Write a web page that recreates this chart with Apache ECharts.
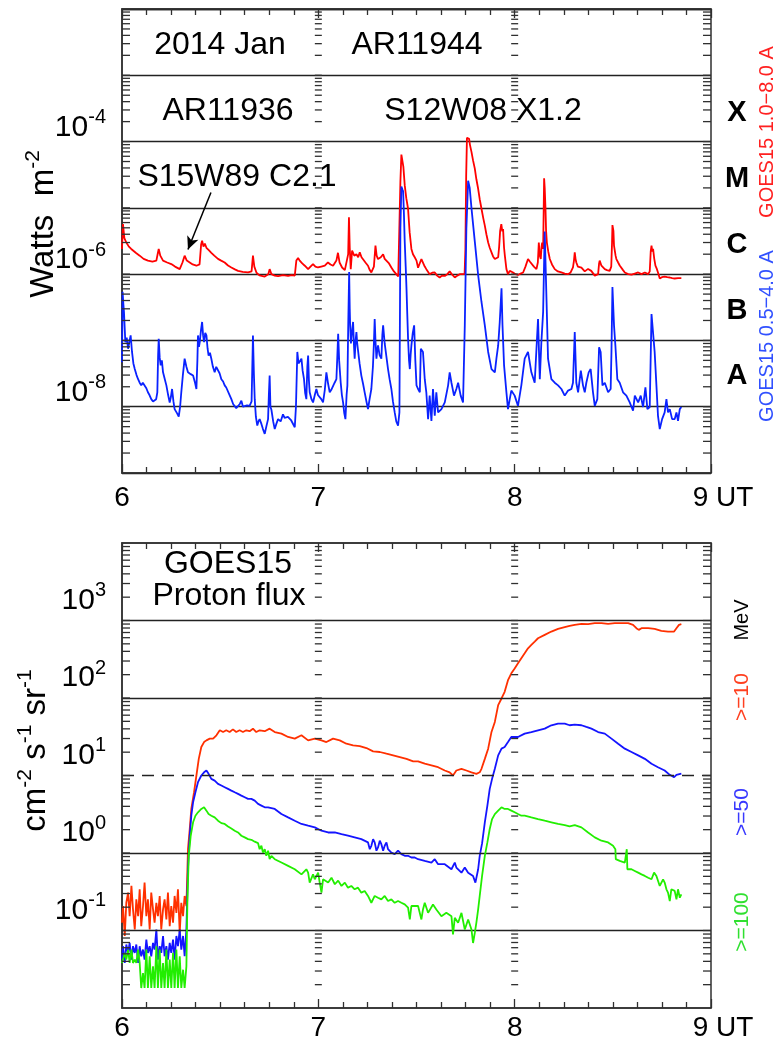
<!DOCTYPE html>
<html><head><meta charset="utf-8">
<script src="https://cdn.jsdelivr.net/npm/echarts@6/dist/echarts.min.js"></script>
<style>html,body{margin:0;padding:0;background:#fff}#c{width:778px;height:1043px}</style>
</head><body><div id="c"></div><script>
// ---------- data (time in days of 2014 Jan, flux values) ----------
const xTicks = [6, 7, 8, 9];
const xLabels = ['6', '7', '8', '9 UT'];
const goesLong = [[6.000,2.4e-6],[6.005,5.7e-6],[6.012,3.5e-6],[6.022,3.0e-6],[6.035,2.6e-6],[6.047,2.4e-6],[6.070,2.1e-6],[6.090,1.9e-6],[6.110,1.7e-6],[6.132,1.6e-6],[6.155,1.55e-6],[6.175,1.6e-6],[6.183,2.1e-6],[6.187,2.4e-6],[6.195,1.9e-6],[6.209,1.6e-6],[6.230,1.5e-6],[6.251,1.42e-6],[6.270,1.3e-6],[6.294,1.19e-6],[6.308,1.5e-6],[6.319,1.9e-6],[6.330,1.6e-6],[6.345,1.5e-6],[6.360,1.4e-6],[6.379,1.34e-6],[6.395,1.4e-6],[6.403,2.8e-6],[6.408,3.2e-6],[6.415,2.6e-6],[6.422,2.9e-6],[6.430,2.5e-6],[6.442,2.3e-6],[6.455,2.1e-6],[6.470,1.9e-6],[6.489,1.7e-6],[6.505,1.6e-6],[6.523,1.5e-6],[6.540,1.35e-6],[6.557,1.26e-6],[6.575,1.18e-6],[6.591,1.12e-6],[6.615,1.08e-6],[6.642,1.06e-6],[6.660,1.1e-6],[6.667,1.9e-6],[6.674,1.3e-6],[6.685,1.05e-6],[6.700,0.96e-6],[6.727,0.92e-6],[6.745,1.0e-6],[6.752,1.19e-6],[6.761,1.0e-6],[6.778,0.95e-6],[6.795,0.93e-6],[6.820,0.97e-6],[6.846,0.94e-6],[6.865,0.97e-6],[6.880,0.95e-6],[6.888,1.6e-6],[6.897,1.75e-6],[6.905,1.6e-6],[6.918,1.45e-6],[6.931,1.34e-6],[6.948,1.19e-6],[6.960,1.3e-6],[6.973,1.42e-6],[6.985,1.3e-6],[6.998,1.26e-6],[7.015,1.3e-6],[7.033,1.34e-6],[7.049,1.5e-6],[7.062,1.4e-6],[7.075,1.34e-6],[7.092,1.6e-6],[7.100,2.1e-6],[7.108,1.5e-6],[7.121,1.26e-6],[7.135,1.15e-6],[7.143,1.12e-6],[7.152,2.0e-6],[7.156,7.2e-6],[7.160,2.5e-6],[7.165,1.19e-6],[7.172,2.26e-6],[7.183,1.9e-6],[7.194,2.0e-6],[7.203,1.8e-6],[7.211,2.13e-6],[7.220,1.8e-6],[7.228,1.69e-6],[7.240,1.5e-6],[7.253,1.34e-6],[7.262,1.15e-6],[7.270,1.06e-6],[7.283,1.3e-6],[7.291,2.7e-6],[7.297,1.9e-6],[7.304,1.69e-6],[7.318,1.8e-6],[7.330,2.0e-6],[7.338,1.7e-6],[7.347,1.8e-6],[7.360,1.45e-6],[7.372,1.26e-6],[7.385,1.1e-6],[7.397,1.0e-6],[7.407,0.92e-6],[7.415,0.89e-6],[7.418,2.5e-5],[7.423,6.35e-5],[7.428,6.0e-5],[7.433,4.2e-5],[7.440,2.2e-5],[7.448,1.4e-5],[7.457,9.7e-6],[7.465,4.3e-6],[7.474,2.4e-6],[7.482,2.0e-6],[7.491,1.8e-6],[7.500,1.6e-6],[7.508,1.25e-6],[7.517,1.3e-6],[7.525,1.69e-6],[7.533,1.6e-6],[7.542,1.3e-6],[7.550,1.19e-6],[7.567,1.0e-6],[7.580,1.05e-6],[7.593,1.06e-6],[7.605,0.95e-6],[7.618,0.89e-6],[7.630,0.95e-6],[7.644,0.94e-6],[7.657,1.0e-6],[7.669,1.1e-6],[7.682,0.98e-6],[7.695,0.89e-6],[7.708,0.95e-6],[7.720,1.0e-6],[7.732,1.0e-6],[7.745,1.0e-6],[7.749,2.4e-6],[7.753,3.0e-5],[7.757,1.14e-4],[7.763,1.14e-4],[7.768,1.1e-4],[7.772,9.0e-5],[7.780,7.0e-5],[7.788,5.2e-5],[7.797,3.9e-5],[7.805,2.7e-5],[7.814,1.94e-5],[7.822,1.35e-5],[7.831,9.7e-6],[7.840,7.0e-6],[7.848,5.4e-6],[7.856,4.0e-6],[7.865,3.0e-6],[7.873,2.5e-6],[7.882,2.13e-6],[7.890,1.85e-6],[7.899,1.69e-6],[7.908,1.75e-6],[7.916,1.8e-6],[7.921,2.6e-6],[7.926,4.5e-6],[7.932,5.7e-6],[7.937,4.4e-6],[7.941,4.8e-6],[7.946,2.5e-6],[7.950,1.9e-6],[7.958,1.19e-6],[7.966,1.0e-6],[7.975,1.12e-6],[7.983,1.06e-6],[7.992,1.06e-6],[8.004,1.0e-6],[8.017,0.97e-6],[8.030,1.02e-6],[8.043,1.06e-6],[8.055,1.3e-6],[8.068,1.69e-6],[8.077,1.55e-6],[8.085,1.5e-6],[8.098,1.3e-6],[8.111,1.19e-6],[8.118,1.5e-6],[8.123,3.0e-6],[8.128,1.9e-6],[8.133,1.69e-6],[8.137,2.6e-6],[8.140,3.0e-6],[8.145,2.4e-6],[8.148,1.0e-5],[8.150,2.8e-5],[8.153,2.0e-5],[8.157,9.7e-6],[8.160,4.5e-6],[8.164,3.0e-6],[8.171,2.2e-6],[8.179,1.69e-6],[8.190,1.4e-6],[8.204,1.19e-6],[8.220,1.1e-6],[8.238,1.06e-6],[8.255,1.02e-6],[8.272,1.0e-6],[8.285,1.06e-6],[8.297,1.26e-6],[8.302,1.6e-6],[8.306,2.13e-6],[8.310,1.7e-6],[8.314,1.5e-6],[8.322,1.3e-6],[8.331,1.35e-6],[8.340,1.25e-6],[8.348,1.19e-6],[8.357,1.1e-6],[8.365,1.06e-6],[8.374,1.2e-6],[8.382,1.26e-6],[8.390,1.12e-6],[8.399,1.06e-6],[8.408,0.95e-6],[8.416,0.89e-6],[8.425,1.0e-6],[8.430,1.45e-6],[8.433,1.6e-6],[8.442,1.34e-6],[8.450,1.26e-6],[8.459,1.19e-6],[8.470,1.15e-6],[8.484,1.12e-6],[8.492,1.3e-6],[8.496,3.0e-6],[8.498,5.5e-6],[8.503,4.5e-6],[8.506,2.7e-6],[8.510,2.7e-6],[8.514,1.9e-6],[8.518,1.69e-6],[8.527,1.5e-6],[8.535,1.35e-6],[8.544,1.26e-6],[8.552,1.15e-6],[8.561,1.06e-6],[8.578,1.0e-6],[8.595,0.98e-6],[8.612,1.02e-6],[8.629,1.06e-6],[8.646,1.0e-6],[8.663,1.06e-6],[8.672,1.0e-6],[8.680,1.0e-6],[8.688,1.1e-6],[8.693,2.2e-6],[8.697,2.7e-6],[8.701,2.2e-6],[8.705,2.4e-6],[8.711,1.7e-6],[8.717,1.34e-6],[8.724,1.2e-6],[8.730,1.06e-6],[8.739,0.86e-6],[8.750,0.9e-6],[8.764,0.92e-6],[8.777,0.9e-6],[8.790,0.89e-6],[8.802,0.87e-6],[8.815,0.86e-6],[8.832,0.87e-6],[8.849,0.87e-6]];
const goesShort = [[6.000,4.7e-8],[6.003,5.4e-7],[6.007,3.5e-7],[6.010,2.7e-7],[6.017,9.4e-8],[6.024,1.1e-7],[6.031,7.5e-8],[6.038,8.0e-8],[6.044,1.19e-7],[6.051,6.7e-8],[6.058,4.5e-8],[6.065,3.7e-8],[6.074,3.0e-8],[6.082,2.6e-8],[6.090,2.3e-8],[6.098,2.1e-8],[6.106,2.3e-8],[6.115,2.2e-8],[6.124,1.9e-8],[6.132,1.65e-8],[6.140,1.5e-8],[6.149,1.3e-8],[6.158,1.2e-8],[6.166,1.16e-8],[6.174,1.3e-8],[6.180,1.65e-8],[6.184,6e-8],[6.187,1.06e-7],[6.192,5.5e-8],[6.197,4.2e-8],[6.203,5.0e-8],[6.209,3.3e-8],[6.218,2.6e-8],[6.226,2.1e-8],[6.235,1.5e-8],[6.243,1.16e-8],[6.249,1.4e-8],[6.255,1.85e-8],[6.262,1.2e-8],[6.268,0.92e-8],[6.280,0.8e-8],[6.289,0.71e-8],[6.296,1.0e-8],[6.302,1.65e-8],[6.310,3.0e-8],[6.319,5.3e-8],[6.328,4.0e-8],[6.336,3.3e-8],[6.350,3.1e-8],[6.362,2.95e-8],[6.372,2.3e-8],[6.379,1.85e-8],[6.384,5e-8],[6.387,1.19e-7],[6.392,8e-8],[6.396,9.4e-8],[6.402,1.4e-7],[6.408,1.9e-7],[6.413,1.2e-7],[6.418,9.4e-8],[6.424,1.3e-7],[6.430,1.19e-7],[6.436,7.5e-8],[6.441,5.9e-8],[6.448,6.5e-8],[6.455,5.3e-8],[6.463,4.0e-8],[6.472,3.3e-8],[6.480,4.0e-8],[6.489,4.2e-8],[6.497,3.2e-8],[6.506,2.6e-8],[6.515,2.4e-8],[6.523,2.1e-8],[6.531,1.95e-8],[6.540,1.85e-8],[6.548,1.5e-8],[6.557,1.3e-8],[6.566,1.1e-8],[6.574,1.03e-8],[6.582,0.95e-8],[6.591,0.92e-8],[6.600,1.1e-8],[6.608,1.23e-8],[6.616,1.0e-8],[6.625,0.99e-8],[6.637,1.05e-8],[6.650,1.03e-8],[6.660,1.2e-8],[6.667,1.19e-7],[6.672,3.0e-8],[6.676,1.3e-8],[6.682,0.7e-8],[6.689,0.52e-8],[6.695,0.6e-8],[6.701,0.65e-8],[6.710,0.55e-8],[6.718,0.46e-8],[6.727,0.39e-8],[6.735,0.5e-8],[6.744,0.65e-8],[6.748,1.5e-8],[6.752,2.95e-8],[6.756,1.0e-8],[6.761,0.9e-8],[6.770,0.6e-8],[6.778,0.46e-8],[6.786,0.55e-8],[6.795,0.65e-8],[6.808,0.6e-8],[6.820,0.77e-8],[6.828,0.68e-8],[6.837,0.65e-8],[6.845,0.7e-8],[6.854,0.73e-8],[6.862,0.62e-8],[6.871,0.65e-8],[6.880,0.49e-8],[6.886,1.0e-8],[6.893,6.7e-8],[6.899,4.5e-8],[6.905,4.7e-8],[6.914,5.3e-8],[6.920,3.5e-8],[6.927,2.6e-8],[6.933,1.6e-8],[6.939,1.3e-8],[6.944,4e-8],[6.948,5.9e-8],[6.952,2.5e-8],[6.956,1.65e-8],[6.965,1.3e-8],[6.973,1.16e-8],[6.982,1.5e-8],[6.990,1.85e-8],[6.998,1.5e-8],[7.007,1.47e-8],[7.015,1.3e-8],[7.024,1.16e-8],[7.033,1.8e-8],[7.041,3.3e-8],[7.050,2.2e-8],[7.058,1.65e-8],[7.066,1.8e-8],[7.075,1.85e-8],[7.083,2.3e-8],[7.092,2.6e-8],[7.097,6e-8],[7.101,1.26e-7],[7.106,5e-8],[7.114,2.3e-8],[7.120,1.5e-8],[7.126,1.16e-8],[7.132,0.8e-8],[7.138,0.65e-8],[7.144,1.5e-8],[7.148,2.1e-8],[7.152,1.5e-7],[7.157,1.08e-6],[7.160,3.0e-7],[7.162,1.69e-7],[7.166,9e-8],[7.169,8.4e-8],[7.173,1.5e-7],[7.177,1.9e-7],[7.181,9e-8],[7.185,5.3e-8],[7.190,1.0e-7],[7.194,1.34e-7],[7.198,9e-8],[7.202,8.4e-8],[7.210,4.5e-8],[7.219,2.95e-8],[7.228,2.2e-8],[7.236,1.65e-8],[7.245,1.2e-8],[7.253,0.92e-8],[7.261,1.3e-8],[7.270,1.85e-8],[7.278,4e-8],[7.283,9e-8],[7.287,2.1e-7],[7.291,1.0e-7],[7.296,5.3e-8],[7.300,7e-8],[7.304,8.4e-8],[7.312,6e-8],[7.321,5.3e-8],[7.326,1.2e-7],[7.330,1.69e-7],[7.338,9e-8],[7.347,8.4e-8],[7.355,3.7e-8],[7.363,2.6e-8],[7.372,1.85e-8],[7.380,1.2e-8],[7.389,0.82e-8],[7.397,0.6e-8],[7.406,0.52e-8],[7.413,0.82e-8],[7.418,5.0e-6],[7.423,2.1e-5],[7.428,1.9e-5],[7.432,1.77e-5],[7.436,8e-6],[7.440,3.1e-6],[7.445,1.3e-6],[7.449,6.1e-7],[7.453,2.5e-7],[7.457,1.06e-7],[7.462,5.0e-8],[7.466,3.7e-8],[7.470,6e-8],[7.474,8.4e-8],[7.481,1.3e-7],[7.488,1.69e-7],[7.494,5e-8],[7.500,2.1e-8],[7.508,1.85e-8],[7.517,1.65e-8],[7.522,7.5e-8],[7.533,6.7e-8],[7.542,2.6e-8],[7.550,1.65e-8],[7.559,0.65e-8],[7.567,1.47e-8],[7.576,0.61e-8],[7.584,1.85e-8],[7.593,0.73e-8],[7.601,1.65e-8],[7.610,0.82e-8],[7.627,0.92e-8],[7.644,1.16e-8],[7.661,2.1e-8],[7.669,3.3e-8],[7.678,2.3e-8],[7.691,1.47e-8],[7.703,1.85e-8],[7.712,2.3e-8],[7.725,1.47e-8],[7.737,1.16e-8],[7.746,1.69e-7],[7.754,4.9e-6],[7.763,2.57e-5],[7.771,1.99e-5],[7.780,9.9e-6],[7.797,3.1e-6],[7.814,9.7e-7],[7.831,3.8e-7],[7.848,1.69e-7],[7.865,6.7e-8],[7.882,3.7e-8],[7.899,3.3e-8],[7.907,5.3e-8],[7.916,8.4e-8],[7.924,1.9e-7],[7.933,6.1e-7],[7.938,1.69e-7],[7.946,4.2e-8],[7.958,1.65e-8],[7.966,0.92e-8],[7.975,1.3e-8],[7.983,1.75e-8],[8.000,1.47e-8],[8.017,1.03e-8],[8.034,2.1e-8],[8.051,5.3e-8],[8.068,6.7e-8],[8.085,3.3e-8],[8.102,2.3e-8],[8.119,2.1e-7],[8.128,2.6e-8],[8.136,9.4e-8],[8.145,2.7e-7],[8.153,4.4e-6],[8.162,4.3e-7],[8.170,5.3e-8],[8.187,2.6e-8],[8.204,2.3e-8],[8.221,2.1e-8],[8.238,1.85e-8],[8.255,1.47e-8],[8.272,1.75e-8],[8.289,1.85e-8],[8.297,2.3e-8],[8.306,1.34e-7],[8.314,2.3e-8],[8.323,1.65e-8],[8.337,3.5e-8],[8.348,2.1e-8],[8.357,1.65e-8],[8.365,2.3e-8],[8.377,3.3e-8],[8.387,3.7e-8],[8.399,1.65e-8],[8.408,1.03e-8],[8.421,1.3e-8],[8.430,7.9e-8],[8.438,6.7e-8],[8.447,2.1e-8],[8.459,2.3e-8],[8.476,1.65e-8],[8.489,1.85e-8],[8.493,6.7e-8],[8.498,6.4e-7],[8.506,1.69e-7],[8.513,8.4e-8],[8.523,2.6e-8],[8.535,2.3e-8],[8.552,1.65e-8],[8.569,1.47e-8],[8.586,1.16e-8],[8.603,0.87e-8],[8.612,1.47e-8],[8.629,1.16e-8],[8.642,1.47e-8],[8.654,0.99e-8],[8.666,1.96e-8],[8.676,0.92e-8],[8.688,0.99e-8],[8.697,2.5e-7],[8.705,2.4e-7],[8.713,6.7e-8],[8.722,2.1e-8],[8.730,0.73e-8],[8.739,0.46e-8],[8.751,0.65e-8],[8.764,0.82e-8],[8.773,1.3e-8],[8.781,0.82e-8],[8.790,0.92e-8],[8.802,0.65e-8],[8.815,0.65e-8],[8.824,0.82e-8],[8.832,0.61e-8],[8.841,0.92e-8],[8.849,0.99e-8]];
const proton10 = [[6.000,0.126],[6.005,0.207],[6.014,0.085],[6.022,0.228],[6.031,0.308],[6.039,0.153],[6.048,0.376],[6.056,0.187],[6.065,0.103],[6.073,0.252],[6.082,0.153],[6.090,0.34],[6.098,0.114],[6.107,0.207],[6.115,0.415],[6.124,0.153],[6.132,0.252],[6.141,0.103],[6.149,0.308],[6.158,0.187],[6.166,0.126],[6.175,0.228],[6.183,0.153],[6.192,0.279],[6.200,0.103],[6.209,0.187],[6.217,0.252],[6.226,0.139],[6.234,0.308],[6.243,0.114],[6.251,0.207],[6.260,0.126],[6.268,0.279],[6.277,0.169],[6.285,0.34],[6.294,0.093],[6.302,0.228],[6.311,0.153],[6.319,0.279],[6.328,0.207],[6.336,1.12],[6.345,2.04],[6.353,3.7],[6.367,6.08],[6.379,10],[6.391,16.4],[6.404,23.3],[6.418,27],[6.430,28.4],[6.447,29.9],[6.464,29.9],[6.481,33],[6.498,38.3],[6.515,36.4],[6.531,38.3],[6.548,36.4],[6.565,39.4],[6.582,36.4],[6.599,38.3],[6.616,36.4],[6.633,38.3],[6.650,37.3],[6.667,40.2],[6.684,36.4],[6.701,38.3],[6.727,37.3],[6.752,40.2],[6.778,36.4],[6.812,34.7],[6.846,31.4],[6.880,29.9],[6.914,33],[6.948,28.4],[6.982,29.9],[7.016,28.4],[7.041,27],[7.075,29.9],[7.109,28.4],[7.143,25.7],[7.177,24.5],[7.211,24.0],[7.245,22.6],[7.279,20.5],[7.313,20.1],[7.347,19.1],[7.381,18.2],[7.415,17.3],[7.449,16.4],[7.483,15.2],[7.508,15.2],[7.542,14.2],[7.576,13.5],[7.610,12.8],[7.644,11.6],[7.669,11.0],[7.686,10.0],[7.703,11.6],[7.729,12.2],[7.754,11.6],[7.780,11.0],[7.805,10.5],[7.822,11.0],[7.831,12.2],[7.848,16.4],[7.865,22.2],[7.882,36.5],[7.899,49.1],[7.916,80.8],[7.933,98.6],[7.949,120],[7.966,170],[7.983,208],[8.000,241],[8.017,280],[8.034,325],[8.051,377],[8.068,438],[8.085,484],[8.102,534],[8.119,590],[8.153,652],[8.187,720],[8.221,780],[8.255,820],[8.280,850],[8.306,879],[8.340,905],[8.374,896],[8.408,923],[8.442,923],[8.476,905],[8.510,923],[8.544,923],[8.578,923],[8.603,879],[8.620,796],[8.632,757],[8.646,796],[8.680,796],[8.713,780],[8.747,735],[8.781,720],[8.812,720],[8.824,796],[8.837,879],[8.849,896]];
const proton50 = [[6.000,0.0421],[6.005,0.0627],[6.014,0.0381],[6.022,0.0659],[6.031,0.0514],[6.039,0.0692],[6.048,0.0421],[6.056,0.0627],[6.065,0.0514],[6.073,0.0659],[6.082,0.0381],[6.090,0.0627],[6.098,0.0465],[6.107,0.0567],[6.115,0.0421],[6.124,0.0764],[6.132,0.0514],[6.141,0.0627],[6.149,0.0465],[6.158,0.0692],[6.166,0.0567],[6.175,0.103],[6.183,0.0421],[6.192,0.0627],[6.200,0.0514],[6.209,0.085],[6.217,0.0465],[6.226,0.0627],[6.234,0.0421],[6.243,0.0692],[6.251,0.0514],[6.260,0.0764],[6.268,0.0421],[6.277,0.085],[6.285,0.0627],[6.294,0.103],[6.302,0.0567],[6.311,0.085],[6.319,0.0465],[6.328,0.103],[6.336,0.617],[6.345,1.67],[6.353,3.03],[6.362,4.51],[6.374,6.08],[6.387,8.2],[6.404,10],[6.418,11.0],[6.430,11.6],[6.441,10.5],[6.455,9.05],[6.472,8.6],[6.489,7.8],[6.506,7.42],[6.523,7.06],[6.540,6.72],[6.557,6.39],[6.574,6.08],[6.591,5.79],[6.608,5.5],[6.625,5.24],[6.642,4.99],[6.659,4.99],[6.676,4.74],[6.693,4.3],[6.710,4.09],[6.727,3.89],[6.744,3.89],[6.778,3.7],[6.812,3.18],[6.846,2.88],[6.880,2.61],[6.914,2.37],[6.948,2.25],[6.982,2.14],[7.016,1.94],[7.050,1.84],[7.084,1.84],[7.118,1.75],[7.151,1.67],[7.185,1.59],[7.219,1.51],[7.253,1.37],[7.262,1.12],[7.270,1.24],[7.279,1.51],[7.287,1.37],[7.296,1.07],[7.304,1.18],[7.313,1.44],[7.321,1.3],[7.330,1.07],[7.338,1.24],[7.347,1.37],[7.355,1.12],[7.372,1.01],[7.389,0.966],[7.406,1.07],[7.423,0.966],[7.440,0.92],[7.457,0.92],[7.474,0.875],[7.491,0.875],[7.508,0.832],[7.542,0.79],[7.576,0.753],[7.593,0.832],[7.610,0.717],[7.644,0.717],[7.678,0.617],[7.695,0.753],[7.703,0.649],[7.729,0.558],[7.746,0.649],[7.763,0.558],[7.788,0.506],[7.800,0.415],[7.814,0.617],[7.822,0.92],[7.834,1.33],[7.848,2.49],[7.861,4.09],[7.873,6.72],[7.885,9.05],[7.899,12.2],[7.916,18.2],[7.933,22.2],[7.949,23.3],[7.966,27],[7.983,31.4],[8.017,31.4],[8.051,34.7],[8.085,36.4],[8.119,38.3],[8.153,40.2],[8.187,44.5],[8.221,46.7],[8.255,46.7],[8.280,44.5],[8.306,45.4],[8.340,44.5],[8.365,42.3],[8.391,40.2],[8.425,36.4],[8.459,34.7],[8.493,29.9],[8.527,25.7],[8.561,22.2],[8.595,20.1],[8.629,18.2],[8.663,16.4],[8.697,14.2],[8.730,12.8],[8.764,11.6],[8.790,10.2],[8.812,9.5],[8.824,10.2],[8.849,10.6]];
const proton100 = [[6.000,0.0381],[6.014,0.0514],[6.022,0.0421],[6.031,0.0567],[6.039,0.0381],[6.048,0.0567],[6.056,0.0381],[6.065,0.0421],[6.073,0.0381],[6.082,0.0567],[6.090,0.0381],[6.098,0.0181],[6.107,0.0283],[6.115,0.0181],[6.124,0.0567],[6.132,0.0181],[6.141,0.0465],[6.149,0.0181],[6.158,0.0345],[6.166,0.0181],[6.175,0.0627],[6.183,0.0181],[6.192,0.0567],[6.200,0.0181],[6.209,0.0381],[6.217,0.0181],[6.226,0.0567],[6.234,0.0181],[6.243,0.0421],[6.251,0.0181],[6.260,0.0514],[6.268,0.0181],[6.277,0.0567],[6.285,0.0181],[6.294,0.0465],[6.302,0.0181],[6.311,0.0312],[6.319,0.0181],[6.328,0.0345],[6.333,0.228],[6.340,0.92],[6.350,1.67],[6.362,2.49],[6.374,3.03],[6.387,3.35],[6.404,3.7],[6.418,3.89],[6.430,3.52],[6.441,3.18],[6.455,3.03],[6.472,2.88],[6.489,2.61],[6.506,2.43],[6.523,2.37],[6.540,2.2],[6.557,2.07],[6.574,1.94],[6.591,1.84],[6.608,1.67],[6.625,1.59],[6.642,1.51],[6.659,1.48],[6.676,1.4],[6.693,1.34],[6.701,1.12],[6.710,1.24],[6.718,1.01],[6.727,1.12],[6.735,0.92],[6.744,1.07],[6.752,0.832],[6.761,0.92],[6.778,0.832],[6.812,0.753],[6.846,0.682],[6.880,0.617],[6.914,0.53],[6.939,0.617],[6.948,0.558],[6.956,0.415],[6.973,0.53],[6.982,0.458],[6.999,0.558],[7.007,0.415],[7.016,0.308],[7.024,0.458],[7.033,0.458],[7.050,0.415],[7.067,0.48],[7.084,0.395],[7.101,0.44],[7.118,0.376],[7.135,0.415],[7.151,0.357],[7.168,0.376],[7.185,0.34],[7.202,0.357],[7.219,0.308],[7.236,0.324],[7.253,0.279],[7.270,0.228],[7.287,0.279],[7.304,0.265],[7.321,0.252],[7.338,0.279],[7.355,0.24],[7.372,0.252],[7.389,0.228],[7.406,0.24],[7.423,0.228],[7.440,0.217],[7.457,0.197],[7.466,0.139],[7.474,0.207],[7.491,0.207],[7.508,0.207],[7.525,0.139],[7.533,0.187],[7.542,0.228],[7.559,0.169],[7.584,0.217],[7.601,0.187],[7.627,0.153],[7.652,0.169],[7.678,0.153],[7.686,0.089],[7.695,0.146],[7.712,0.126],[7.729,0.169],[7.746,0.103],[7.763,0.139],[7.780,0.103],[7.788,0.069],[7.797,0.093],[7.805,0.126],[7.814,0.187],[7.822,0.279],[7.834,0.506],[7.848,0.92],[7.861,1.37],[7.873,2.04],[7.885,2.74],[7.899,3.18],[7.916,3.52],[7.933,3.89],[7.949,3.7],[7.966,3.7],[7.983,3.52],[8.000,3.35],[8.017,3.18],[8.034,3.03],[8.051,3.03],[8.085,2.88],[8.119,2.74],[8.153,2.61],[8.187,2.49],[8.221,2.37],[8.255,2.29],[8.280,2.2],[8.306,2.29],[8.340,2.14],[8.374,1.84],[8.408,1.59],[8.442,1.44],[8.476,1.37],[8.501,1.24],[8.513,1.12],[8.515,0.832],[8.535,0.79],[8.561,0.753],[8.569,0.717],[8.571,1.12],[8.574,0.617],[8.595,0.617],[8.612,0.587],[8.629,0.558],[8.646,0.53],[8.663,0.506],[8.680,0.48],[8.697,0.458],[8.710,0.558],[8.722,0.506],[8.739,0.376],[8.756,0.458],[8.764,0.415],[8.773,0.34],[8.781,0.308],[8.790,0.24],[8.798,0.34],[8.815,0.324],[8.824,0.252],[8.832,0.34],[8.841,0.265],[8.849,0.293]];
const protonLevels = [1e3, 1e2, 1e1, 1e0, 1e-1];              // horizontal reference lines (1e1 dashed)
const xrayLabelExp = [-4, -6, -8];
const protonLabelExp = [-1, 0, 1, 2, 3];
const flareClasses = ['X', 'M', 'C', 'B', 'A'];

// ---------- styles ----------
const FONT = '"Liberation Sans", Arial, sans-serif';
const AX = '#303030';
const chart = echarts.init(document.getElementById('c'));

function logTicks(lo, hi) {
  const out = [];
  for (let n = lo; n < hi; n++) for (let k = 1; k <= 9; k++) {
    if (n === lo && k === 1) continue;
    out.push(k * Math.pow(10, n));
  }
  return out;
}
function tickData(lo, hi) {
  const d = [];
  logTicks(lo, hi).forEach(v => xTicks.forEach(x => d.push([x, v])));
  return d;
}
function tickItem(params, api) {
  const x = api.value(0);
  const p = api.coord([x, api.value(1)]);
  const L = 8;
  let x1 = p[0] - 3.5, x2 = p[0] + 3.5;
  if (x <= 6) { x1 = p[0]; x2 = p[0] + L; }
  else if (x >= 9) { x1 = p[0] - L; x2 = p[0]; }
  return { type: 'line', shape: { x1: x1, y1: p[1], x2: x2, y2: p[1] }, style: { stroke: AX, lineWidth: 1.3 } };
}
function xAxisDef(gridIndex, pos, labelMargin) {
  return {
    type: 'value', gridIndex: gridIndex, position: pos, min: 6, max: 9, interval: 1,
    axisLine: { show: true, onZero: false, lineStyle: { color: AX, width: 1.5 } },
    axisTick: { show: true, inside: true, length: 9, lineStyle: { color: AX, width: 1.3 } },
    minorTick: { show: true, splitNumber: 8, length: 6, lineStyle: { color: AX, width: 1.3 } },
    splitLine: { show: false },
    axisLabel: labelMargin == null ? { show: false } : {
      show: true, margin: labelMargin, fontSize: 28, color: '#000', fontFamily: FONT,
      showMinLabel: true, showMaxLabel: true,
      formatter: v => { const i = xTicks.indexOf(Math.round(v)); const s = xLabels[i]; return v === 9 ? '{u|' + s + '}' : s; },
      rich: { u: { fontSize: 28, fontFamily: FONT, color: '#000', padding: [0, 0, 0, 24] } }
    }
  };
}
function yAxisDef(gridIndex, lo, hi, labelExps, shiftUp, name, nameGap, namePad, showSplit) {
  return {
    type: 'log', logBase: 10, gridIndex: gridIndex, min: Math.pow(10, lo), max: Math.pow(10, hi), position: 'left',
    axisLine: { show: true, lineStyle: { color: AX, width: 1.5 } },
    axisTick: { show: false },
    splitLine: { show: showSplit, lineStyle: { color: '#222', width: 1.3, type: 'solid' } },
    axisLabel: {
      margin: 16, padding: [0, 0, shiftUp * 2, 0], color: '#000', fontFamily: FONT,
      formatter: v => { const n = Math.round(Math.log10(v)); return labelExps.indexOf(n) >= 0 ? '{b|10}{e|' + n + '}' : ''; },
      rich: { b: { fontSize: 30, fontFamily: FONT, color: '#000' }, e: { fontSize: 20, fontFamily: FONT, color: '#000', padding: [0, 0, 20, 0] } }
    },
    name: name, nameLocation: 'middle', nameRotate: 90, nameGap: nameGap, nameMoveOverlap: false,
    nameTextStyle: { fontSize: 33, fontFamily: FONT, color: '#000', padding: namePad,
      rich: { e: { fontSize: 21, fontFamily: FONT, color: '#000', padding: [0, 0, 20, 0] }, n: { fontSize: 33, fontFamily: FONT, color: '#000' } } }
  };
}
function txt(x, y, s, size, color, opts) {
  opts = opts || {};
  return { type: 'text', x: x, y: y, rotation: opts.rot || 0, z: 100,
    style: { text: s, fill: color, font: (opts.bold ? 'bold ' : '') + size + 'px ' + FONT,
      textAlign: 'center', align: 'center', textVerticalAlign: 'middle', verticalAlign: 'middle' } };
}

const option = {
  animation: false,
  backgroundColor: '#fff',
  textStyle: { fontFamily: FONT },
  grid: [
    { left: 122, top: 9, width: 589, height: 464, show: true, borderColor: AX, borderWidth: 1.5 },
    { left: 122, top: 543, width: 589, height: 465, show: true, borderColor: AX, borderWidth: 1.5 }
  ],
  xAxis: [ xAxisDef(0, 'bottom', 11), xAxisDef(0, 'top', null), xAxisDef(1, 'bottom', 6), xAxisDef(1, 'top', null) ],
  yAxis: [
    yAxisDef(0, -9, -2, xrayLabelExp, 14, '{n|Watts  m}{e|-2}', 58, [0, 0, 0, 34], true),
    yAxisDef(1, -2, 4, protonLabelExp, 20, '{n|cm}{e|-2}{n| s}{e|-1}{n| sr}{e|-1}', 66, [0, 0, 0, 50], false)
  ],
  series: [
    { type: 'line', name: 'GOES15 1.0-8.0 A', xAxisIndex: 0, yAxisIndex: 0, data: goesLong, showSymbol: false, z: 3,
      lineStyle: { color: '#ff0000', width: 1.8 }, itemStyle: { color: '#ff0000' },
      markLine: { silent: true, symbol: ['none', 'arrow'], symbolSize: [9, 13], label: { show: false },
        lineStyle: { color: '#000', width: 1.5, type: 'solid' },
        data: [[{ coord: [6.453, 1.7e-5] }, { coord: [6.336, 2.35e-6] }]] } },
    { type: 'line', name: 'GOES15 0.5-4.0 A', xAxisIndex: 0, yAxisIndex: 0, data: goesShort, showSymbol: false, z: 4,
      lineStyle: { color: '#0a22ff', width: 1.8 }, itemStyle: { color: '#0a22ff' } },
    { type: 'custom', xAxisIndex: 0, yAxisIndex: 0, data: tickData(-9, -2), renderItem: tickItem, silent: true, z: 5,
      encode: { x: 0, y: 1 } },
    { type: 'line', xAxisIndex: 2, yAxisIndex: 1, z: 1, data: [], silent: true,
      markLine: { silent: true, symbol: 'none', label: { show: false },
        lineStyle: { color: '#222', width: 1.3, type: 'solid' },
        data: protonLevels.map(v => v === 10 ? { yAxis: v, lineStyle: { type: [12, 8] } } : { yAxis: v }) } },
    { type: 'line', name: '>=10', xAxisIndex: 2, yAxisIndex: 1, data: proton10, showSymbol: false, z: 3,
      lineStyle: { color: '#ff3000', width: 1.8 } },
    { type: 'line', name: '>=50', xAxisIndex: 2, yAxisIndex: 1, data: proton50, showSymbol: false, z: 4,
      lineStyle: { color: '#1414ff', width: 1.8 } },
    { type: 'line', name: '>=100', xAxisIndex: 2, yAxisIndex: 1, data: proton100, showSymbol: false, z: 5,
      lineStyle: { color: '#22ee00', width: 1.8 } },
    { type: 'custom', xAxisIndex: 2, yAxisIndex: 1, data: tickData(-2, 4), renderItem: tickItem, silent: true, z: 6,
      encode: { x: 0, y: 1 } }
  ],
  graphic: [
    txt(220, 45, '2014 Jan', 32, '#000'),
    txt(417, 45, 'AR11944', 32, '#000'),
    txt(228, 111, 'AR11936', 32, '#000'),
    txt(483, 111, 'S12W08 X1.2', 32, '#000'),
    txt(237, 177, 'S15W89 C2.1', 32, '#000'),
    txt(737, 113, flareClasses[0], 29, '#000', { bold: true }),
    txt(737, 179, flareClasses[1], 29, '#000', { bold: true }),
    txt(737, 245, flareClasses[2], 29, '#000', { bold: true }),
    txt(737, 311, flareClasses[3], 29, '#000', { bold: true }),
    txt(737, 376, flareClasses[4], 29, '#000', { bold: true }),
    txt(767, 132, 'GOES15 1.0\u22128.0 A', 20, '#ff2020', { rot: Math.PI / 2 }),
    txt(767, 336, 'GOES15 0.5\u22124.0 A', 20, '#3050ff', { rot: Math.PI / 2 }),
    txt(228, 564, 'GOES15', 32, '#000'),
    txt(229, 596, 'Proton flux', 32, '#000'),
    txt(742, 620, 'MeV', 20, '#000', { rot: Math.PI / 2 }),
    txt(742, 697, '>=10', 21, '#ff4020', { rot: Math.PI / 2 }),
    txt(742, 812, '>=50', 21, '#3838ff', { rot: Math.PI / 2 }),
    txt(742, 922, '>=100', 21, '#30e030', { rot: Math.PI / 2 })
  ]
};
chart.setOption(option);
</script></body></html>
